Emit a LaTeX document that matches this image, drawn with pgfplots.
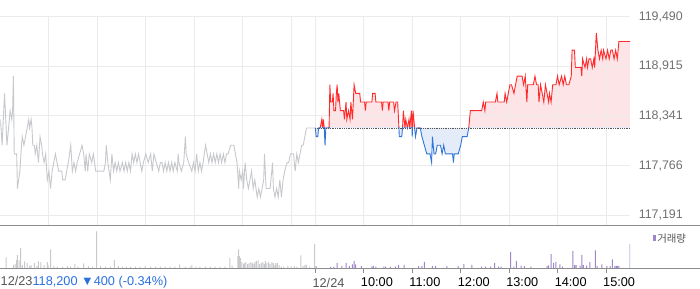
\documentclass[border=0pt]{standalone}
\usepackage{fontspec}
\setmainfont{Liberation Sans}
\newfontfamily\kr{Noto Sans CJK KR}
\usepackage{pgfplots}
\usepackage{pgfplotstable}
\usepgfplotslibrary{fillbetween}
\pgfplotsset{compat=1.18}

\definecolor{gridc}{HTML}{EBEBEB}
\definecolor{grayline}{HTML}{C6C8CC}
\definecolor{redline}{HTML}{FF2A2A}
\definecolor{blueline}{HTML}{2F74D9}
\definecolor{redfill}{HTML}{FDE4E7}
\definecolor{bluefill}{HTML}{E3ECF8}
\definecolor{volgray}{HTML}{C8C9CC}
\definecolor{volpurple}{HTML}{9D86C9}
\definecolor{pricegray}{HTML}{707070}
\definecolor{bluetxt}{HTML}{2A6FE0}
\definecolor{datec}{HTML}{555555}
\definecolor{sepc}{HTML}{8C8C8C}
\definecolor{axc}{HTML}{8C8C8C}
\definecolor{basec}{HTML}{555555}

% 12/23 price, minutes from 09:00
\pgfplotstableread{
t p
0 118300
2 118000
5 118600
8 118000
12 118400
14 118300
15 118400
16 118800
17 117900
20 117900
21 117500
24 117700
26 118000
27 118100
29 118000
31 118100
33 118200
35 118300
36 118200
38 118300
39 118200
40 118000
42 118000
43 117900
45 118000
46 117900
47 117800
49 118100
51 118000
52 117900
54 117800
56 117900
58 117600
60 117700
62 117500
64 117700
66 117800
68 117900
70 117800
72 117700
76 117700
77 117600
80 117600
82 117700
84 117800
87 118000
89 117700
91 117800
93 117700
95 117800
98 117900
101 118000
103 117900
105 117700
106 117900
108 117700
110 117900
113 117800
115 117900
118 117700
128 117700
130 117800
131 118000
133 117800
136 117600
138 117900
140 117700
142 117800
144 117700
146 117800
148 117700
151 117800
153 117700
155 117800
157 117700
159 117800
161 117700
163 117900
165 117800
167 117900
169 117800
171 117900
173 117800
175 117700
177 117800
180 117900
183 117800
186 117900
188 117700
190 117900
193 117800
196 117700
198 117800
200 117800
202 117700
204 117800
206 117700
208 117800
210 117700
212 117800
214 117700
216 117800
219 117700
220 117900
221 117800
224 117700
227 117800
229 118100
230 117900
233 117800
237 117700
239 117800
241 117700
243 117900
245 117700
247 117800
249 117700
251 117800
254 118000
256 117900
258 117800
260 117900
262 117800
264 117900
266 117800
268 117900
270 117800
272 117900
274 117800
276 117900
278 117800
280 117900
282 117900
285 118000
289 118000
291 117900
293 117800
295 117500
296 117700
298 117600
300 117700
301 117500
303 117800
305 117600
307 117500
309 117600
311 117700
313 117500
315 117600
318 117400
320 117500
322 117400
324 117500
326 117600
327 117900
329 117500
334 117500
337 117800
338 117500
340 117400
342 117500
344 117400
346 117600
348 117400
350 117600
352 117700
355 117800
357 117800
359 117900
363 117900
365 117700
367 117900
369 117800
371 117900
373 118000
375 118000
377 118100
379 118200
390 118200
}\dayA

% 12/24 price (390 = 12/24 09:00)
\pgfplotstableread{
t p
390 118200
391 118100
393 118100
394 118200
396 118200
398 118300
399 118200
400 118300
401 118200
402 118000
403 118200
407 118200
408 118700
409 118500
411 118500
412 118600
413 118400
415 118400
416 118600
417 118700
418 118500
419 118600
421 118400
425 118400
426 118300
428 118500
429 118300
431 118400
433 118300
434 118500
436 118300
438 118700
440 118600
445 118600
446 118500
451 118500
452 118400
453 118500
460 118500
461 118600
464 118600
465 118500
472 118500
473 118400
474 118500
480 118500
481 118400
482 118500
487 118500
488 118400
490 118500
492 118500
494 118100
497 118100
498 118200
499 118400
501 118200
502 118300
504 118200
506 118300
507 118200
509 118400
510 118100
511 118400
513 118200
514 118100
516 118200
520 118200
522 118100
525 118000
528 117900
532 117900
534 117800
535 118100
537 117900
539 117900
541 118000
545 118000
547 117900
549 118000
551 117900
560 117900
561 117800
562 117900
567 117900
570 118000
572 118100
578 118100
580 118200
582 118400
596 118400
598 118500
600 118400
601 118500
613 118500
615 118600
616 118500
624 118500
625 118600
627 118500
629 118600
631 118700
633 118700
636 118600
638 118700
640 118800
646 118800
648 118700
650 118800
652 118500
653 118700
660 118700
662 118800
664 118700
666 118700
667 118500
669 118700
671 118600
673 118500
675 118700
677 118600
679 118500
680 118600
682 118500
684 118700
688 118700
690 118800
692 118700
695 118800
697 118700
699 118800
701 118700
704 118700
707 118800
708 119100
711 119100
712 118900
719 118900
720 118800
721 119000
724 118900
726 119000
727 118900
729 119000
731 119000
733 118900
735 119000
736 118900
738 119300
740 119100
742 119000
744 119100
746 119000
747 119100
750 119000
752 119100
754 119000
756 119100
758 119100
760 119000
762 119100
764 119000
766 119200
780 119200
}\dayB

% volume (panel pixel heights), 12/23
\pgfplotstableread{
t v
7 10.7
16 3
18 4
20 8
21 13
23 7.7
25 20
27 3
30 6.7
33 5
36 2
38 3
42 5
45 2
47 6.7
50 6
54 3
58 6
59 3
62 18.7
66 2
70 1.5
77 1.5
83 2
87 1.5
92 4
96 1.5
103 4.7
109 2
114 1.5
119 36.7
124 2
130 1.5
136 1.5
141 8
146 2
151 1.5
156 1.5
161 1.5
167 1.5
173 1.5
179 2
186 1.5
192 1.5
198 1.5
204 1.5
210 1.5
216 1.5
222 3.5
229 1.5
235 1.5
237 3
242 1.5
247 1.5
254 1.5
260 1.5
266 1.5
272 1.5
278 1.5
284 10
287 2.5
294 12
295 18.7
296 12
297 10
299 6
301 4
302 5
304 6
306 4
308 5
310 6
312 5
314 4
315 6
317 7
319 7.7
321 4
323 5
325 6
327 4
328 7
330 5
332 6
334 4
336 6
338 5
340 3
341 5
343 5
345 3
348 1.5
351 1.5
356 2.5
360 2
364 2
367 1.5
372 12.7
375 2
377 3.3
379 3.3
383 1.5
389 24.3
}\volA

% volume, 12/24
\pgfplotstableread{
t v
391 2
409 1.3
413 1.5
417 5.3
423 2.3
428 5.3
432 2
436 3.7
438 7.3
440 3.7
447 2
460 1.5
462 2.3
465 1.5
475 1.5
477 1.5
483 1.5
489 1.5
493 3.3
500 3.3
518 2
522 2
525 6.3
535 2.3
539 2.3
553 2
567 2
574 4
584 3.3
596 1.5
601 1.5
607 1.5
612 5.3
617 1.5
620 1.5
632 16.3
636 1.5
639 7.3
645 2.5
649 2
657 1.5
677 2
679 2.7
682 14
685 5
688 6.3
693 3.7
696 1.5
709 17.3
711 3
713 3
718 2.5
720 13.3
722 3
726 2.5
730 6
737 17.7
739 2
745 3.7
751 2
755 2
758 8.7
761 2.3
763 2.3
764 2.3
766 2.3
780 24
}\volB

% prices are plotted relative to the previous close 118,200
\pgfplotsset{pricerel/.style={y filter/.expression={y-118200}}}

\begin{document}
\begin{tikzpicture}
\path (0bp,0bp) rectangle (700bp,289bp);

% main price axis: grid, labels, 12/23 line
\begin{axis}[
  at={(0bp,63bp)}, anchor=south west, scale only axis,
  width=630.6bp, height=209.5bp,
  xmin=0, xmax=780, ymin=-1130.3, ymax=1290,
  pricerel,
  axis line style={draw=none},
  tick style={draw=none},
  grid=major,
  major grid style={draw=gridc, line width=0.9bp},
  xtick={60,120,180,240,300,360,390,450,510,570,630,690,750},
  xticklabels={},
  ytick={-1009,-434,141,715,1290},
  yticklabels={{117,191},{117,766},{118,341},{118,915},{119,490}},
  yticklabel pos=right,
  yticklabel style={font=\fontsize{12.5}{14}\selectfont, text=pricegray, anchor=west, inner sep=0pt, xshift=8.4bp},
]
\addplot[grayline, line width=0.9bp] table[x=t,y=p] {\dayA};
\end{axis}

% upper overlay (above previous close): red
\begin{axis}[
  at={(0bp,160.84bp)}, anchor=south west, scale only axis,
  width=630.6bp, height=111.66bp,
  xmin=0, xmax=780, ymin=0, ymax=1290,
  pricerel, hide axis,
]
\addplot[name path=R, draw=none] table[x=t,y=p] {\dayB};
\addplot[name path=RB, draw=none] coordinates {(390,118200) (780,118200)};
\addplot[fill=redfill, draw=none] fill between[of=R and RB];
\addplot[redline, line width=0.9bp] table[x=t,y=p] {\dayB};
\end{axis}

% lower overlay (below previous close): blue
\begin{axis}[
  at={(0bp,63bp)}, anchor=south west, scale only axis,
  width=630.6bp, height=97.84bp,
  xmin=0, xmax=780, ymin=-1130.3, ymax=0,
  pricerel, hide axis,
]
\addplot[name path=B, draw=none] table[x=t,y=p] {\dayB};
\addplot[name path=BB, draw=none] coordinates {(390,118200) (780,118200)};
\addplot[fill=bluefill, draw=none] fill between[of=B and BB];
\addplot[blueline, line width=0.9bp] table[x=t,y=p] {\dayB};
\end{axis}

% previous close reference line
\begin{axis}[
  at={(0bp,63bp)}, anchor=south west, scale only axis,
  width=630.6bp, height=209.5bp,
  xmin=0, xmax=780, ymin=-1130.3, ymax=1290,
  pricerel, hide axis,
]
\addplot[basec, densely dotted, line width=0.8bp] coordinates {(390,118200) (780,118200)};
\end{axis}

% volume panel
\begin{axis}[
  at={(0bp,20.5bp)}, anchor=south west, scale only axis,
  width=630.6bp, height=42.5bp,
  xmin=0, xmax=780, ymin=0, ymax=42.5,
  axis y line=none, axis x line*=bottom,
  x axis line style={draw=none},
  xtick={390,450,510,570,630,690,750},
  xticklabels={\textcolor{datec}{12/24},10:00,11:00,12:00,13:00,14:00,15:00},
  tick align=outside, major tick length=5bp,
  xtick style={draw=axc, line width=0.9bp},
  xticklabel style={font=\fontsize{12.8}{14}\selectfont, anchor=north west, inner sep=0pt, xshift=-3bp, yshift=-4.5bp},
]
\addplot[ybar, bar width=1bp, bar shift=0pt, fill=volgray, draw=none] table[x=t,y=v] {\volA};
\addplot[ybar, bar width=1bp, bar shift=0pt, fill=volpurple, draw=none] table[x=t,y=v] {\volB};
\end{axis}

\draw[sepc, line width=1bp] (0bp,63.5bp) -- (700bp,63.5bp);
\draw[axc, line width=1bp] (0bp,20.5bp) -- (700bp,20.5bp);

% legend of volume
\fill[volpurple] (653bp,47.3bp) rectangle (656bp,54bp);
\node[anchor=west, inner sep=0pt, text=datec, font=\kr\fontsize{10.5}{12}\selectfont] at (657.5bp,50.5bp) {거래량};

% bottom-left info
\node[anchor=base west, inner sep=0pt, font=\fontsize{12.8}{14}\selectfont] at (0bp,3bp)
  {\textcolor{datec}{12/23}\textcolor{bluetxt}{118,200 ▼400 (-0.34\%)}};
\end{tikzpicture}
\end{document}
